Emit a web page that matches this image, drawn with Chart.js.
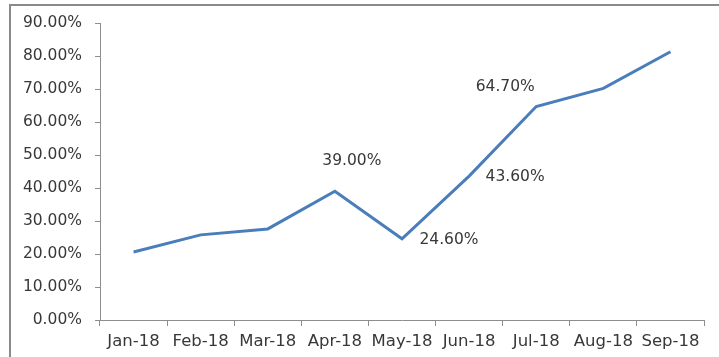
<!DOCTYPE html>
<html>
<head>
<meta charset="utf-8">
<script src="https://cdn.jsdelivr.net/npm/chart.js@4"></script>
<style>
  html, body { margin: 0; padding: 0; background: #fff; }
  #wrap { width: 719px; height: 357px; position: relative; }
</style>
</head>
<body>
<div id="wrap"><canvas id="lineChart" width="719" height="357"></canvas></div>
<script>
// 월별 값 (%)
const months = ['Jan-18', 'Feb-18', 'Mar-18', 'Apr-18', 'May-18', 'Jun-18', 'Jul-18', 'Aug-18', 'Sep-18'];
const rates = [20.6, 25.8, 27.6, 39.0, 24.6, 43.6, 64.7, 70.2, 81.3];
const yTicks = [0, 10, 20, 30, 40, 50, 60, 70, 80, 90];

// 값 라벨을 붙일 점과 점 기준 위치 (px)
const labelled = [3, 4, 5, 6];
const labelShift = { 3: [17, -30], 4: [47, 1], 5: [46, 1], 6: [-31, -20] };

const textColor = '#383838';
const axisColor = '#8e8e8e';
const valueFont = { family: 'DejaVu Sans', size: 15.5 };
const monthFont = { family: 'DejaVu Sans', size: 16.5 };

// 바깥 테두리
const framePlugin = {
    id: 'frame',
    beforeDraw(chart) {
        const ctx = chart.ctx;
        ctx.save();
        ctx.fillStyle = '#ffffff';
        ctx.fillRect(0, 0, chart.width, chart.height);
        ctx.strokeStyle = '#8a8a8a';
        ctx.lineWidth = 2;
        ctx.strokeRect(10, 5, chart.width + 20, chart.height + 20);
        ctx.restore();
    }
};

// 값 라벨 그리기
const valueLabels = {
    id: 'valueLabels',
    afterDatasetsDraw(chart) {
        const ctx = chart.ctx;
        const meta = chart.getDatasetMeta(0);
        ctx.save();
        ctx.font = valueFont.size + 'px ' + valueFont.family;
        ctx.fillStyle = textColor;
        ctx.textAlign = 'center';
        ctx.textBaseline = 'middle';
        labelled.forEach(i => {
            const pt = meta.data[i];
            const [dx, dy] = labelShift[i];
            ctx.fillText(rates[i].toFixed(2) + '%', pt.x + dx, pt.y + dy);
        });
        ctx.restore();
    }
};

new Chart(document.getElementById('lineChart').getContext('2d'), {
    type: 'line',
    data: {
        labels: months,
        datasets: [{
            data: rates,
            borderColor: '#4a7ebb',
            borderWidth: 3,
            pointRadius: 0,
            tension: 0,
            fill: false
        }]
    },
    options: {
        responsive: false,
        animation: false,
        layout: { padding: { left: 10, right: 15, top: 23, bottom: 0 } },
        plugins: { legend: { display: false }, tooltip: { enabled: false } },
        scales: {
            x: {
                offset: true,
                grid: { offset: true, drawOnChartArea: false, tickLength: 6, color: axisColor },
                border: { color: axisColor, width: 1 },
                ticks: { color: textColor, font: monthFont, padding: 6, maxRotation: 0, autoSkip: false },
                afterFit(scale) { scale.height = 37; }
            },
            y: {
                min: 0,
                max: 90,
                afterBuildTicks(scale) { scale.ticks = yTicks.map(v => ({ value: v })); },
                grid: { drawOnChartArea: false, tickLength: 5, color: axisColor },
                border: { color: axisColor, width: 1 },
                ticks: {
                    color: textColor,
                    font: valueFont,
                    padding: 13,
                    callback: v => v.toFixed(2) + '%'
                },
                afterFit(scale) { scale.width = 90; }
            }
        }
    },
    plugins: [framePlugin, valueLabels]
});
</script>
</body>
</html>
